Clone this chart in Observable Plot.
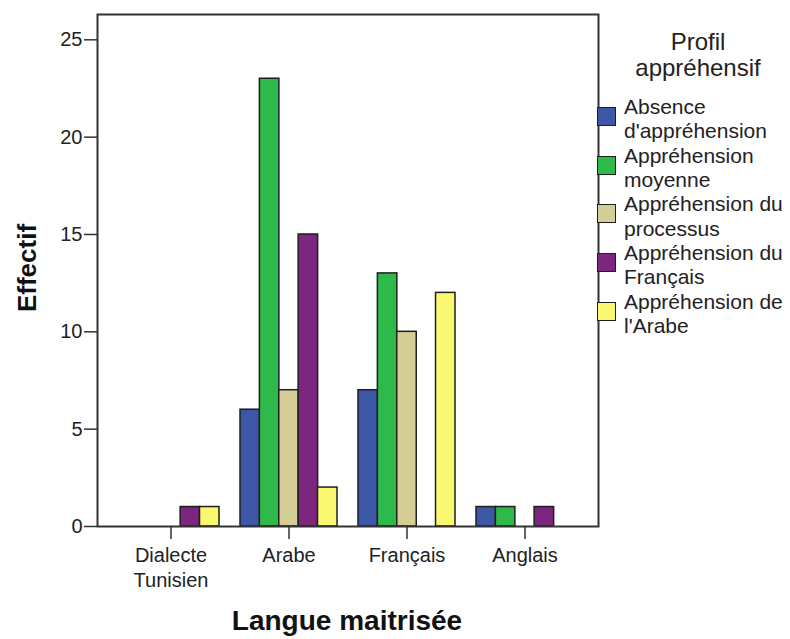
<!DOCTYPE html>
<html><head><meta charset="utf-8">
<script src="https://cdn.jsdelivr.net/npm/d3@7"></script>
<script src="https://cdn.jsdelivr.net/npm/@observablehq/plot@0.6"></script>
<style>
body{margin:0;background:#fff;font-family:"Liberation Sans",Arial,sans-serif;color:#1a1a1a}
#wrap{position:relative;width:790px;height:639px;overflow:hidden;background:#fff}
#wrap svg{position:absolute;left:0;top:0}
.ttl{position:absolute;font-weight:bold;white-space:nowrap;transform:translate(-50%,-50%);color:#111}
#legend{position:absolute;left:597px;top:0;width:193px;height:639px}
#legTitle{position:absolute;left:1px;top:29px;width:200px;text-align:center;font-size:24px;line-height:26px;color:#222}
.item{position:absolute;left:0;width:193px;height:48.7px}
.sw{position:absolute;left:0;top:12px;width:19px;height:19px;box-sizing:border-box;border:1.5px solid #1e1e1e}
.lab{position:absolute;left:27px;top:0;font-size:21px;line-height:24.35px;white-space:nowrap;color:#222}
</style></head><body><div id="wrap"></div>
<script>
const categories = ["Dialecte Tunisien", "Arabe", "Français", "Anglais"];
const categoryLabels = ["Dialecte\nTunisien", "Arabe", "Français", "Anglais"];
const series = ["Absence d'appréhension", "Appréhension moyenne", "Appréhension du processus", "Appréhension du Français", "Appréhension de l'Arabe"];
const legendLines = [["Absence", "d'appréhension"], ["Appréhension", "moyenne"], ["Appréhension du", "processus"], ["Appréhension du", "Français"], ["Appréhension de", "l'Arabe"]];
const colors = ["#3c56a8", "#2eb94b", "#d4cd96", "#7c2680", "#faf870"];
const absenceValues = [0, 6, 7, 1];
const moyenneValues = [0, 23, 13, 1];
const processusValues = [0, 7, 10, 0];
const francaisValues = [1, 15, 0, 1];
const arabeValues = [1, 2, 12, 0];
const yTicks = [0, 5, 10, 15, 20, 25];
const yMax = 26.3;

const seriesValues = [absenceValues, moyenneValues, processusValues, francaisValues, arabeValues];
const rows = [];
series.forEach((s, i) => categories.forEach((c, j) => rows.push({category: c, series: s, value: seriesValues[i][j]})));

const W = 790, H = 639, mL = 97, mR = 192, mT = 14, mB = 113;
const xOpts = {type: "band", domain: categories, range: [mL, W - mR], paddingInner: 0.18, paddingOuter: 0.21};
const bw = Plot.scale({x: xOpts}).bandwidth / series.length;

const barMarks = series.map((s, i) => Plot.barY(rows.filter(d => d.series === s && d.value > 0), {
  x: "category", y: "value", fill: "series", stroke: "#1e1e1e", strokeWidth: 1.5,
  insetLeft: i * bw, insetRight: (series.length - 1 - i) * bw
}));

const chart = Plot.plot({
  width: W, height: H,
  marginLeft: mL, marginRight: mR, marginTop: mT, marginBottom: mB,
  style: {fontFamily: "'Liberation Sans', Arial, sans-serif", background: "transparent", color: "#222"},
  x: {...xOpts, axis: null},
  y: {domain: [0, yMax], axis: null},
  color: {domain: series, range: colors},
  marks: [
    ...barMarks,
    Plot.axisY({ticks: yTicks, tickSize: 13, tickPadding: 2, fontSize: 20, label: null, stroke: "#333", strokeWidth: 1.5}),
    Plot.axisX({tickSize: 13, tickPadding: 5, fontSize: 20, label: null, lineHeight: 1.25, stroke: "#333", strokeWidth: 1.5,
      tickFormat: d => categoryLabels[categories.indexOf(d)]}),
    Plot.frame({stroke: "#333", strokeWidth: 2})
  ]
});
const wrap = document.getElementById("wrap");
wrap.appendChild(chart);

const yT = document.createElement("div");
yT.className = "ttl"; yT.textContent = "Effectif";
yT.style.cssText = "left:27px;top:268px;font-size:26px;transform:translate(-50%,-50%) rotate(-90deg)";
wrap.appendChild(yT);
const xT = document.createElement("div");
xT.className = "ttl"; xT.textContent = "Langue maitrisée";
xT.style.cssText = "left:347px;top:621px;font-size:28px";
wrap.appendChild(xT);

const leg = document.createElement("div");
leg.id = "legend";
const lt = document.createElement("div");
lt.id = "legTitle"; lt.innerHTML = "Profil<br>appréhensif";
leg.appendChild(lt);
series.forEach((s, i) => {
  const it = document.createElement("div");
  it.className = "item"; it.style.top = (95 + i * 48.7) + "px";
  const sw = document.createElement("div");
  sw.className = "sw"; sw.style.background = colors[i];
  const lab = document.createElement("div");
  lab.className = "lab"; lab.innerHTML = legendLines[i].join("<br>");
  it.appendChild(sw); it.appendChild(lab);
  leg.appendChild(it);
});
wrap.appendChild(leg);
</script></body></html>
